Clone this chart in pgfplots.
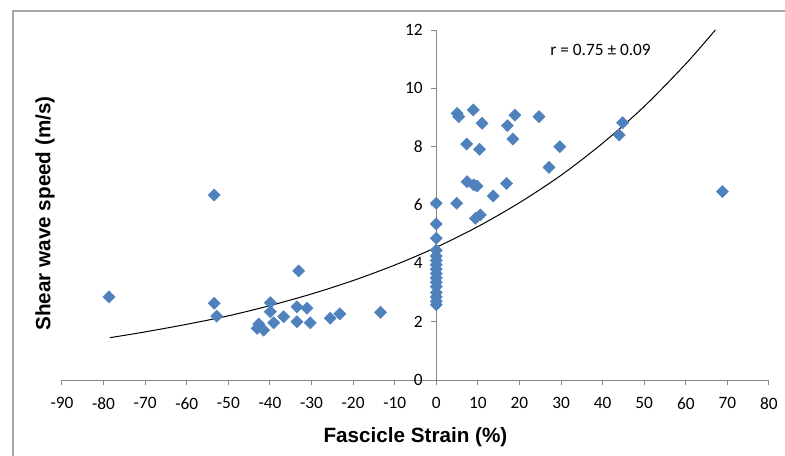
\documentclass[border=0pt]{standalone}
\usepackage{pgfplots}
\pgfplotsset{compat=1.18}
\usepackage{fontspec}
\setmainfont{Carlito}
\newfontfamily\arial{Liberation Sans}
\definecolor{xlblue}{HTML}{4F81BD}
\definecolor{axgray}{HTML}{868686}
\definecolor{frgray}{HTML}{A6A6A6}

\begin{document}
\begin{tikzpicture}
\begin{axis}[
    at={(0,0)}, anchor=south west,
    scale only axis,
    width=530.25pt, height=262.5pt,
    xmin=-90, xmax=80, ymin=0, ymax=12,
    axis x line=bottom, axis y line=middle,
    axis line style={-, axgray, line width=0.75pt},
    hide obscured x ticks=false, hide obscured y ticks=false,
    xtick={-90,-80,...,80}, ytick={0,2,...,12},
    tick align=outside, major tick length=3.75pt,
    tick style={axgray, line width=0.75pt},
    /pgf/number format/assume math mode=true,
    ticklabel style={font=\fontsize{13}{15}\selectfont, text=black},
    xticklabel style={yshift=-6pt},
    yticklabel style={xshift=-3pt},
    every axis x label/.style={at={(axis description cs:0.5,0)}, anchor=center, yshift=-42.75pt},
    every axis y label/.style={at={(axis description cs:-0.024,0.476)}, rotate=90, anchor=center},
    label style={font=\arial\bfseries\fontsize{15.5}{18}\selectfont},
    xlabel={Fascicle Strain (\%)},
    ylabel={Shear wave speed (m/s)},
    clip=false,
]
% measured points
\addplot[only marks, mark=square*, mark size=3.2pt, mark options={rotate=45, fill=xlblue, draw=xlblue}] coordinates {
(-78.7,2.85) (-53.4,6.34) (-53.4,2.63) (-52.8,2.19) (-33.1,3.74)
(-39.9,2.65) (-39.9,2.34) (-39.1,1.96) (-42.7,1.92) (-43.1,1.77)
(-41.5,1.71) (-36.7,2.17) (-33.5,2.51) (-31.1,2.46) (-33.5,2.00)
(-30.3,1.96) (-25.5,2.12) (-23.2,2.27) (-13.4,2.32)
(0,6.06) (0,5.35) (0,4.86) (0,4.45) (0,4.25) (0,4.10) (0,3.95) (0,3.80)
(0,3.65) (0,3.50) (0,3.35) (0,3.20) (0,3.00) (0,2.85) (0,2.70) (0,2.58)
(5.0,9.14) (5.4,9.03) (8.9,9.26) (11.0,8.80) (18.9,9.08) (24.7,9.03)
(17.1,8.72) (18.4,8.26) (7.3,8.09) (10.4,7.91) (29.7,8.00) (27.1,7.29)
(7.4,6.80) (9.0,6.69) (9.8,6.65) (16.9,6.74) (13.7,6.31) (4.9,6.06)
(9.4,5.54) (10.6,5.66) (44.8,8.82) (44.0,8.40) (68.8,6.46)
};
% fitted trend line
\addplot[black, line width=0.75pt, smooth] coordinates {
(-78.5,1.45) (-70,1.65) (-60,1.91) (-50,2.20) (-40,2.55) (-30,2.95)
(-20,3.41) (-10,3.94) (0,4.55) (10,5.26) (20,6.08) (30,7.02)
(40,8.12) (50,9.38) (60,10.84) (67.1,12.0)
};
\node[font=\fontsize{13}{15}\selectfont] at (axis cs:39.5,11.3) {r = 0.75 ± 0.09};
\end{axis}
\draw[frgray, line width=1.5pt] (-36.75pt,-70pt) -- (-36.75pt,276.75pt) -- (560pt,276.75pt);
\pgfresetboundingbox
\path[use as bounding box] (-46.5pt,-56.25pt) rectangle (542.25pt,285pt);
\end{tikzpicture}
\end{document}
